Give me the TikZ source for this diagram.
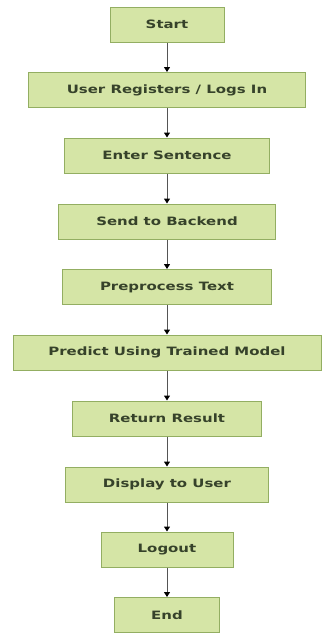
\documentclass[tikz,border=0pt]{standalone}
\usepackage{fontspec}
\setmainfont{DejaVu Sans}
\newfontfamily\boxfont{DejaVu Sans}[FakeStretch=1.3]
\usetikzlibrary{arrows.meta}
\definecolor{boxfill}{HTML}{D5E5A6}
\definecolor{boxline}{HTML}{93AE62}
\definecolor{boxtext}{HTML}{36422A}
\definecolor{arrline}{HTML}{555555}
\tikzset{
  stepbox/.style={draw=boxline, line width=1pt, fill=boxfill, minimum height=35pt,
    inner sep=0pt, text=boxtext, font=\boxfont\bfseries\fontsize{11.5}{13}\selectfont},
  flowarrow/.style={draw=arrline, line width=1pt, -{Triangle[length=5pt,width=6pt,fill=black,color=black]}}
}
\begin{document}
\begin{tikzpicture}[x=1pt,y=-1pt]
\useasboundingbox (0,0) rectangle (323,635);
\node[stepbox, minimum width=114pt] (n1) at (167,24.5) {Start};
\node[stepbox, minimum width=277pt] (n2) at (167,90) {User Registers / Logs In};
\node[stepbox, minimum width=205pt] (n3) at (167,155.5) {Enter Sentence};
\node[stepbox, minimum width=217pt] (n4) at (167,221.5) {Send to Backend};
\node[stepbox, minimum width=209pt] (n5) at (167,287) {Preprocess Text};
\node[stepbox, minimum width=308pt] (n6) at (167,352.5) {Predict Using Trained Model};
\node[stepbox, minimum width=189pt] (n7) at (167,418.5) {Return Result};
\node[stepbox, minimum width=203pt] (n8) at (167,484.5) {Display to User};
\node[stepbox, minimum width=132pt] (n9) at (167,549.5) {Logout};
\node[stepbox, minimum width=105pt] (n10) at (167,615) {End};
\foreach \a/\b in {n1/n2,n2/n3,n3/n4,n4/n5,n5/n6,n6/n7,n7/n8,n8/n9,n9/n10}
  \draw[flowarrow] (\a.south) -- (\b.north);
\end{tikzpicture}
\end{document}
